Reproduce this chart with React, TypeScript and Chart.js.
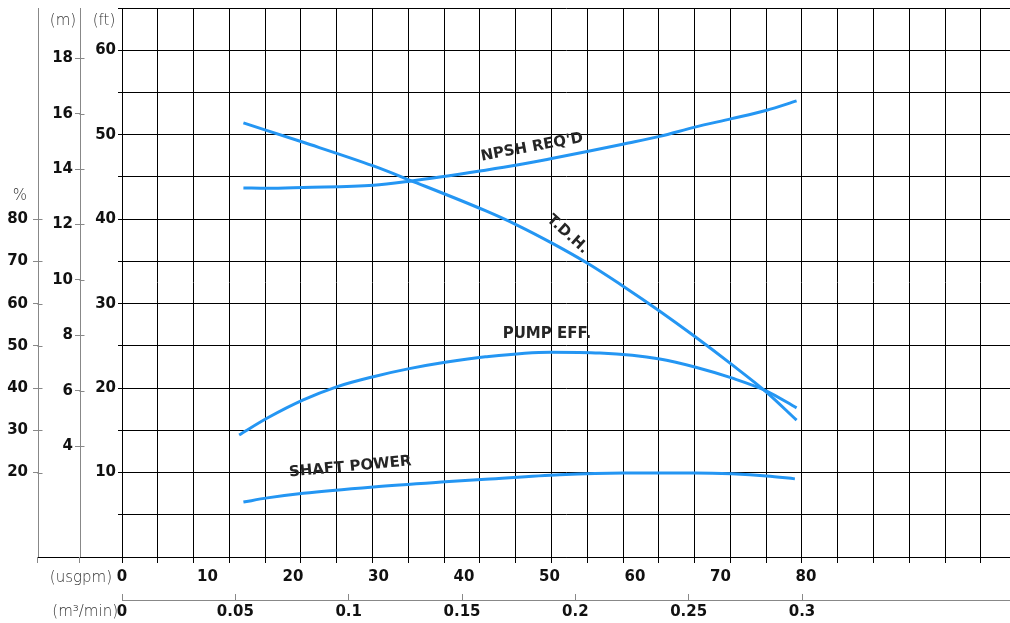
import React, { useEffect, useRef } from "react";
import { Chart, registerables } from "chart.js";

Chart.register(...registerables);

// ---- data (flow in usgpm) ----
const tdhFlow = [14.2, 21.2, 29.4, 33.7, 42.5, 46.2, 50.4, 54.4, 58.7, 62.9, 67.0, 71.3, 75.4, 78.9];
const tdhHead = [51.4, 49.1, 46.3, 44.6, 41.0, 39.3, 37.1, 34.8, 32.0, 29.1, 26.1, 22.8, 19.5, 16.2];

const npshFlow = [14.2, 17.0, 21.2, 29.4, 33.7, 42.5, 46.2, 50.4, 54.4, 58.7, 62.9, 67.0, 71.3, 75.4, 78.9];
const npshHead = [43.7, 43.65, 43.75, 44.0, 44.5, 45.8, 46.4, 47.2, 48.0, 48.9, 49.8, 50.9, 51.9, 52.9, 54.0];

const effFlow = [13.7, 17.0, 21.2, 25.1, 29.4, 33.6, 37.8, 42.5, 50.1, 55.9, 62.9, 67.0, 71.3, 75.4, 78.9];
const effPct = [28.9, 32.9, 37.2, 40.3, 42.7, 44.6, 46.1, 47.4, 48.5, 48.3, 46.9, 45.0, 42.4, 39.3, 35.3];

const powerFlow = [14.2, 17.0, 21.2, 29.4, 37.8, 42.5, 51.2, 58.7, 67.0, 71.3, 75.4, 78.7];
const powerVal = [6.5, 7.0, 7.55, 8.3, 8.9, 9.2, 9.75, 9.95, 9.95, 9.85, 9.6, 9.25];

// ---- tick labels ----
const usgpmTicks = [0, 10, 20, 30, 40, 50, 60, 70, 80];
const m3Ticks = [0, 0.05, 0.1, 0.15, 0.2, 0.25, 0.3];
const ftTicks = [10, 20, 30, 40, 50, 60];
const mTicks = [4, 6, 8, 10, 12, 14, 16, 18];
const pctTicks = [20, 30, 40, 50, 60, 70, 80];

// axis ranges
const FT_MAX = 65;
const M_MAX = FT_MAX / 3.28084;
const PCT_MAX = 130;
const USGPM_MAX = 103.86;
const M3_MAX = 0.39176;
const GRID_COLS = 24.812;

const curveLabels = [
  { text: "NPSH REQ'D", u: 47.95, ft: 48.5, angle: -10.5 },
  { text: "T.D.H.", u: 52.1, ft: 38.2, angle: 42 },
  { text: "PUMP EFF.", u: 49.7, ft: 26.4, angle: 0 },
  { text: "SHAFT POWER", u: 26.7, ft: 10.65, angle: -5.3 },
];

const BLUE = "rgb(36,150,243)";
const TICK_FONT = { family: "'DejaVu Sans'", size: 15, weight: "bold" as const };

const toXY = (xs: number[], ys: number[]) => xs.map((x, i) => ({ x, y: ys[i] }));

const noPad = (s: any) => {
  s.paddingTop = 0;
  s.paddingBottom = 0;
  s.paddingLeft = 0;
  s.paddingRight = 0;
};

const decor = {
  id: "decor",
  afterDraw(chart: any) {
    const ctx = chart.ctx as CanvasRenderingContext2D;
    const area = chart.chartArea;
    const x = chart.scales.x;
    const x2 = chart.scales.x2;
    const y = chart.scales.y;
    const yp = chart.scales.yp;
    const ym = chart.scales.ym;
    ctx.save();
    // baseline under the left axes
    ctx.strokeStyle = "#000";
    ctx.lineWidth = 1;
    ctx.beginPath();
    ctx.moveTo(yp.right - 1, Math.round(area.bottom) + 0.5);
    ctx.lineTo(area.left, Math.round(area.bottom) + 0.5);
    ctx.stroke();
    // small downward ticks and right halves of the left-axis ticks
    ctx.strokeStyle = "#888";
    [yp, ym].forEach((s: any) => {
      const px = Math.round(s.right) - 0.5;
      ctx.beginPath();
      ctx.moveTo(px, area.bottom);
      ctx.lineTo(px, area.bottom + 6);
      ctx.stroke();
      s.ticks.forEach((t: any) => {
        const py = Math.round(s.getPixelForValue(t.value)) + 0.5;
        ctx.beginPath();
        ctx.moveTo(px, py);
        ctx.lineTo(px + 5, py);
        ctx.stroke();
      });
    });
    // m3/min axis line
    const ly = Math.round(x2.top + 6) + 0.5;
    ctx.beginPath();
    ctx.moveTo(x2.left, ly);
    ctx.lineTo(x2.right, ly);
    ctx.stroke();

    // unit labels
    ctx.fillStyle = "#333";
    ctx.font = "300 15px 'DejaVu Sans'";
    ctx.textBaseline = "middle";
    ctx.textAlign = "center";
    ctx.fillText("(m)", (yp.right + ym.right) / 2 + 4, 21);
    ctx.fillText("(ft)", ym.right + 24, 21);
    ctx.fillText("%", yp.right - 18, 196);
    ctx.textAlign = "right";
    ctx.fillText("(usgpm)", area.left - 10, x.top + 15);
    ctx.fillText("(m\u00B3/min)", area.left - 4, x2.top + 18);

    // curve labels
    ctx.fillStyle = "#262626";
    ctx.font = "bold 15px 'DejaVu Sans'";
    ctx.textAlign = "center";
    curveLabels.forEach((l) => {
      ctx.save();
      ctx.translate(x.getPixelForValue(l.u), y.getPixelForValue(l.ft));
      ctx.rotate((l.angle * Math.PI) / 180);
      ctx.fillText(l.text, 0, 0);
      ctx.restore();
    });
    ctx.restore();
  },
};

export default function App() {
  const ref = useRef<HTMLCanvasElement | null>(null);

  useEffect(() => {
    document.body.style.margin = "0";
    const canvas = ref.current!;
    const lineDs = (data: any[], yAxisID: string) => ({
      data,
      xAxisID: "x",
      yAxisID,
      borderColor: BLUE,
      borderWidth: 3,
      pointRadius: 0,
      fill: false,
      cubicInterpolationMode: "monotone" as const,
      borderCapStyle: "butt" as const,
    });

    const chart = new Chart(canvas, {
      type: "line",
      data: {
        datasets: [
          lineDs(toXY(tdhFlow, tdhHead), "y"),
          lineDs(toXY(npshFlow, npshHead), "y"),
          lineDs(toXY(effFlow, effPct), "yp"),
          lineDs(toXY(powerFlow, powerVal), "y"),
        ],
      },
      options: {
        responsive: false,
        animation: false,
        events: [],
        layout: { padding: { top: 8, left: 0, right: 0, bottom: 0 } },
        plugins: { legend: { display: false }, tooltip: { enabled: false } },
        scales: {
          y: {
            type: "linear",
            position: "left",
            weight: 0,
            min: 0,
            max: FT_MAX,
            afterBuildTicks: (s: any) => {
              const t = [];
              for (let v = 0; v <= FT_MAX; v += 5) t.push({ value: v });
              s.ticks = t;
            },
            afterFit: (s: any) => {
              s.width = 42;
              noPad(s);
            },
            grid: { color: "#000", lineWidth: 1, tickLength: 4, drawTicks: true },
            border: { display: true, color: "#000", width: 1 },
            ticks: {
              font: TICK_FONT,
              color: "#111",
              padding: 2,
              callback: (v: any) => (ftTicks.includes(Number(v)) ? String(v) : ""),
            },
          },
          ym: {
            type: "linear",
            position: "left",
            weight: 1,
            min: 0,
            max: M_MAX,
            afterBuildTicks: (s: any) => {
              s.ticks = mTicks.map((v) => ({ value: v }));
            },
            afterFit: (s: any) => {
              s.width = 42;
              noPad(s);
            },
            grid: { drawOnChartArea: false, color: "#888", tickLength: 5 },
            border: { display: true, color: "#888", width: 1 },
            ticks: { font: TICK_FONT, color: "#111", padding: 2, callback: (v: any) => String(v) },
          },
          yp: {
            type: "linear",
            position: "left",
            weight: 2,
            min: 0,
            max: PCT_MAX,
            afterBuildTicks: (s: any) => {
              s.ticks = pctTicks.map((v) => ({ value: v }));
            },
            afterFit: (s: any) => {
              s.width = 38;
              noPad(s);
            },
            grid: { drawOnChartArea: false, color: "#888", tickLength: 5 },
            border: { display: true, color: "#888", width: 1 },
            ticks: { font: TICK_FONT, color: "#111", padding: 5, callback: (v: any) => String(v) },
          },
          xg: {
            type: "linear",
            position: "bottom",
            weight: 0,
            min: 0,
            max: GRID_COLS,
            afterBuildTicks: (s: any) => {
              const t = [];
              for (let v = 0; v <= Math.floor(GRID_COLS); v++) t.push({ value: v });
              s.ticks = t;
            },
            afterFit: (s: any) => {
              s.height = 6;
              noPad(s);
            },
            grid: { color: "#000", lineWidth: 1, tickLength: 6 },
            border: { display: true, color: "#000", width: 1 },
            ticks: { display: false },
          },
          x: {
            type: "linear",
            position: "bottom",
            weight: 1,
            min: 0,
            max: USGPM_MAX,
            afterBuildTicks: (s: any) => {
              s.ticks = usgpmTicks.map((v) => ({ value: v }));
            },
            afterFit: (s: any) => {
              s.height = 31;
              noPad(s);
            },
            grid: { display: false, drawTicks: false, tickLength: 0 },
            border: { display: false },
            ticks: {
              font: TICK_FONT,
              color: "#111",
              padding: 5,
              autoSkip: false,
              maxRotation: 0,
              callback: (v: any) => String(v),
            },
          },
          x2: {
            type: "linear",
            position: "bottom",
            weight: 2,
            min: 0,
            max: M3_MAX,
            afterBuildTicks: (s: any) => {
              s.ticks = m3Ticks.map((v) => ({ value: v }));
            },
            afterFit: (s: any) => {
              s.height = 29;
              noPad(s);
            },
            grid: { drawOnChartArea: false, color: "#888", tickLength: 6 },
            border: { display: false },
            ticks: {
              font: TICK_FONT,
              color: "#111",
              padding: 3,
              autoSkip: false,
              maxRotation: 0,
              callback: (v: any) => String(Math.round(Number(v) * 100) / 100),
            },
          },
        },
      },
      plugins: [decor],
    });
    return () => chart.destroy();
  }, []);

  return (
    <div style={{ position: "fixed", left: 0, top: 0, width: 1010, height: 623, background: "#fff" }}>
      <canvas ref={ref} width={1010} height={623} style={{ width: 1010, height: 623, display: "block" }} />
    </div>
  );
}
